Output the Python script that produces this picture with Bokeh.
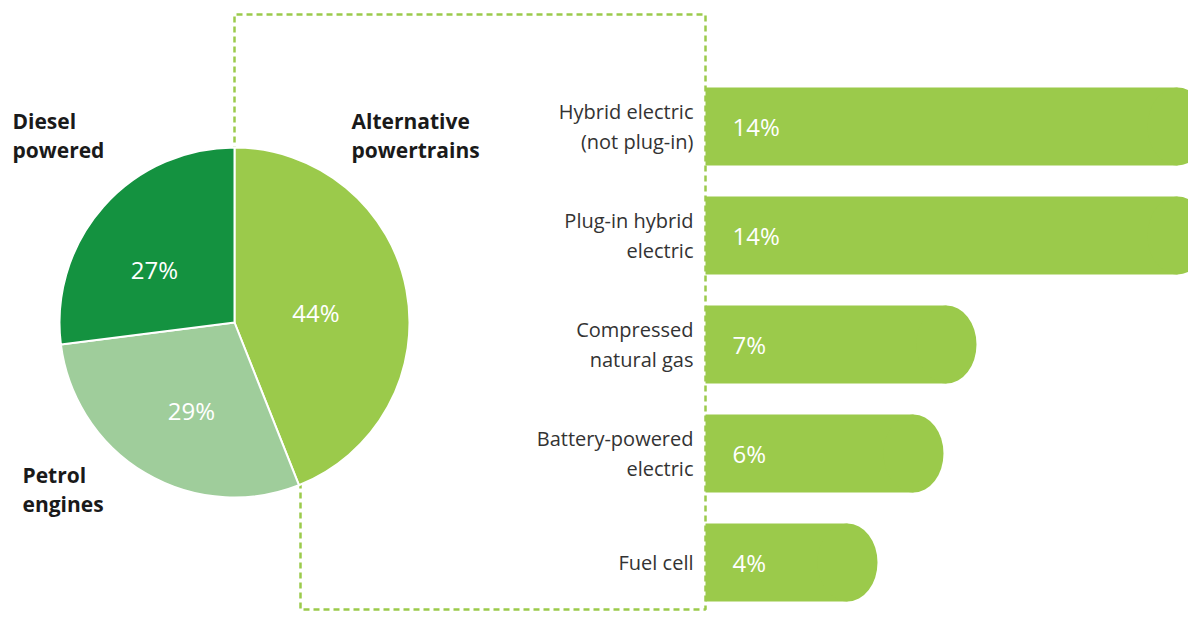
import math
from bokeh.plotting import figure
from bokeh.models import Range1d, ColumnDataSource
from bokeh.core.properties import value
from bokeh.embed import file_html
from bokeh.resources import INLINE

# ---------------- data ----------------
pie_labels = ["Alternative\npowertrains", "Petrol\nengines", "Diesel\npowered"]
pie_values = [44, 29, 27]
pie_colors = ["#9BCA4B", "#9FCD9B", "#149240"]

bar_categories = ["Hybrid electric\n(not plug-in)", "Plug-in hybrid\nelectric",
                  "Compressed\nnatural gas", "Battery-powered\nelectric", "Fuel cell"]
bar_values = [14, 14, 7, 6, 4]
bar_color = "#9BCA4B"

# ---------------- layout (reference pixel coordinates) ----------------
H = 627
FW, FH = 1188, 611
FONT = "Open Sans"

def Y(yref):
    return H - yref

p = figure(width=FW, height=FH, output_backend="svg", toolbar_location=None,
           x_range=Range1d(0, FW), y_range=Range1d(H - FH, H),
           min_border=0, outline_line_color=None)
p.axis.visible = False
p.grid.visible = False
p.background_fill_color = "white"
p.border_fill_color = "white"

# extra ranges for the bars: value scale and row index
px_per_pt = 33.0
zero_px = 745.0
p.extra_x_ranges = {"bars": Range1d((0 - zero_px) / px_per_pt, (FW - zero_px) / px_per_pt)}
row0, row_step = 126.0, 109.0
p.extra_y_ranges = {"rows": Range1d((FH - row0) / row_step, (0 - row0) / row_step)}

# ---------------- pie ----------------
cx, cy, R = 234.0, Y(322), 175.0
starts, ends, mids = [], [], []
a = math.pi / 2
total = float(sum(pie_values))
for v in pie_values:
    sweep = v / total * 2 * math.pi
    starts.append(a)
    ends.append(a - sweep)
    mids.append(a - sweep / 2)
    a -= sweep

# dotted callout frame (drawn beneath the pie)
frame_x = [cx, cx, 705, 705, 300, 300]
frame_y = [cy, Y(14), Y(14), Y(609), Y(609), cy]
p.line(frame_x, frame_y, line_color="#9BCA4B", line_width=2.5, line_dash="6 4")

p.wedge(x=cx, y=cy, radius=R, start_angle=ends, end_angle=starts,
        fill_color=pie_colors, line_color="white", line_width=2)

# percentage labels on the pie
label_r = [82, 98, 96]
label_adj = [-0.07, 0.08, 0.14]
for v, m, r, adj in zip(pie_values, mids, label_r, label_adj):
    ang = m + adj
    p.text(x=[cx + r * math.cos(ang)], y=[cy + r * math.sin(ang)], text=[f"{v}%"],
           text_font=value(FONT), text_font_size="24px", text_color="white",
           text_align="center", text_baseline="middle")

# category labels for the pie
name_pos = [(351, 135), (22, 489), (12, 135)]
for name, (nx, ny) in zip(pie_labels, name_pos):
    p.text(x=[nx], y=[Y(ny)], text=[name], text_font=value(FONT),
           text_font_size="21px", text_font_style="bold", text_color="#1a1a1a",
           text_align="left", text_baseline="middle", text_line_height=1.05)

# ---------------- bars ----------------
bar_left = (705 - zero_px) / px_per_pt
end_rx = 30.0 / px_per_pt
bar_h = 78.0 / row_step
rows = list(range(len(bar_values)))
src = ColumnDataSource(dict(
    y=rows,
    right=[v - end_rx for v in bar_values],
    lab=[f"{v}%" for v in bar_values],
    cat=bar_categories,
))
p.hbar(y="y", left=bar_left, right="right", height=bar_h, source=src,
       fill_color=bar_color, line_color=None,
       x_range_name="bars", y_range_name="rows")
p.ellipse(x="right", y="y", width=2 * end_rx, height=bar_h, source=src,
          fill_color=bar_color, line_color=None,
          x_range_name="bars", y_range_name="rows")

# value labels inside bars
p.text(x=(732 - zero_px) / px_per_pt, y="y", text="lab", source=src,
       text_font=value(FONT), text_font_size="24px", text_color="white",
       text_align="left", text_baseline="middle",
       x_range_name="bars", y_range_name="rows")

# category labels left of bars
p.text(x=(693 - zero_px) / px_per_pt, y="y", text="cat", source=src,
       text_font=value(FONT), text_font_size="20px", text_color="#333333",
       text_align="right", text_baseline="middle", text_line_height=1.1,
       x_range_name="bars", y_range_name="rows")

open("out.html", "w").write(file_html(p, INLINE))
